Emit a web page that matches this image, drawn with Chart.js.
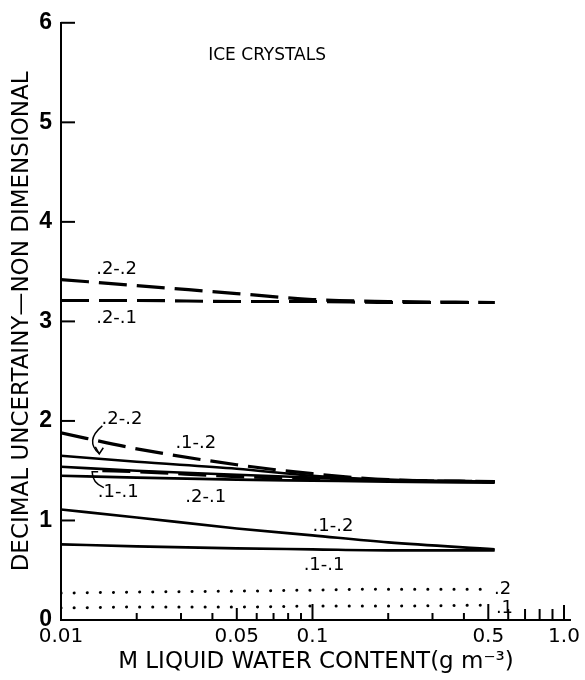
<!DOCTYPE html>
<html>
<head>
<meta charset="utf-8">
<script src="https://cdn.jsdelivr.net/npm/chart.js@4.4.1/dist/chart.umd.min.js"></script>
<style>
  html, body { margin: 0; padding: 0; background: #fff; }
</style>
</head>
<body>
<canvas id="chart" width="585" height="680"></canvas>
<script>
const lwc = [0.01, 0.02, 0.05, 0.1, 0.2, 0.53];
const lwcLate = [0.0146, 0.02, 0.05, 0.1, 0.2, 0.53];
const lwcDot = [0.01, 0.02, 0.05, 0.1, 0.2, 0.52];

// upper pair (dashed)
const upper22 = [3.42, 3.36, 3.28, 3.22, 3.20, 3.19];
const upper21 = [3.21, 3.21, 3.20, 3.20, 3.19, 3.19];

// middle bundle
const mid12Dash = [1.88, 1.72, 1.56, 1.47, 1.41, 1.39];
const mid22Solid = [1.65, 1.59, 1.52, 1.45, 1.41, 1.39];
const midSolid = [1.54, 1.50, 1.46, 1.43, 1.40, 1.39];
const mid21Dash = [1.50, 1.49, 1.44, 1.42, 1.40, 1.39];
const mid11Solid = [1.45, 1.43, 1.41, 1.40, 1.39, 1.38];

// lower pair (solid)
const low12 = [1.11, 1.03, 0.92, 0.85, 0.78, 0.71];
const low11 = [0.76, 0.74, 0.72, 0.71, 0.70, 0.70];

// dotted pair
const dot2 = [0.27, 0.28, 0.29, 0.30, 0.31, 0.31];
const dot1 = [0.12, 0.13, 0.13, 0.14, 0.14, 0.15];

const xTickValues = [0.01, 0.05, 0.1, 0.5, 1.0];
const xTickLabels = ['0.01', '0.05', '0.1', '0.5', '1.0'];
const xMinorTicks = [0.02, 0.03, 0.04, 0.06, 0.07, 0.08, 0.09, 0.2, 0.3, 0.4];
const xMidTicks = [0.6, 0.7, 0.8, 0.9];

// curve labels: text, anchor in data units
const curveLabels = [
    { text: '.2-.2', x: 0.0138, y: 3.52 },
    { text: '.2-.1', x: 0.0138, y: 3.03 },
    { text: '.2-.2', x: 0.0145, y: 2.02 },
    { text: '.1-.2', x: 0.0285, y: 1.77 },
    { text: '.1-.1', x: 0.0140, y: 1.28 },
    { text: '.2-.1', x: 0.0312, y: 1.23 },
    { text: '.1-.2', x: 0.100, y: 0.94 },
    { text: '.1-.1', x: 0.0922, y: 0.55 },
    { text: '.2', x: 0.527, y: 0.31 },
    { text: '.1', x: 0.536, y: 0.12 }
];

const FONT = "'Liberation Sans', Arial, sans-serif";
const WIDE = "'DejaVu Sans', sans-serif";

function pts(xs, ys) {
    return xs.map((x, i) => ({ x: x, y: ys[i] }));
}

function line(xs, ys, style) {
    const base = {
        data: pts(xs, ys),
        borderColor: '#000',
        borderWidth: 2.6,
        pointRadius: 0,
        fill: false,
        cubicInterpolationMode: 'monotone'
    };
    if (style === 'dash') {
        base.borderWidth = 3.2;
        base.borderDash = [28, 10];
    } else if (style === 'dot') {
        base.borderWidth = 3;
        base.borderDash = [0.1, 13];
        base.borderCapStyle = 'round';
    }
    return base;
}

// ticks pointing into the plot, labels and little arrows
const inkPlugin = {
    id: 'ink',
    afterDraw(chart) {
        const { ctx } = chart;
        const x = chart.scales.x;
        const y = chart.scales.y;
        const y0 = y.getPixelForValue(0);
        const xl = x.getPixelForValue(0.01);
        ctx.save();
        ctx.strokeStyle = '#000';
        ctx.lineWidth = 2;
        ctx.lineCap = 'butt';

        const xTick = (v, len) => {
            const px = x.getPixelForValue(v);
            ctx.beginPath();
            ctx.moveTo(px, y0);
            ctx.lineTo(px, y0 - len);
            ctx.stroke();
        };
        xMinorTicks.forEach(v => xTick(v, 7));
        xMidTicks.forEach(v => xTick(v, 11));
        xTick(0.05, 12);
        xTick(0.1, 16);
        xTick(0.5, 16);
        xTick(1.0, 15);

        [1, 2, 3, 4, 5, 6].forEach(v => {
            const py = y.getPixelForValue(v);
            ctx.beginPath();
            ctx.moveTo(xl, py);
            ctx.lineTo(xl + 14, py);
            ctx.stroke();
        });

        // title inside the plot
        ctx.fillStyle = '#000';
        ctx.font = '17px ' + WIDE;
        ctx.textAlign = 'center';
        ctx.textBaseline = 'middle';
        ctx.fillText('ICE CRYSTALS', x.getPixelForValue(0.066), y.getPixelForValue(5.67));

        ctx.font = '18px ' + WIDE;
        ctx.textAlign = 'left';
        curveLabels.forEach(l => {
            ctx.fillText(l.text, x.getPixelForValue(l.x), y.getPixelForValue(l.y));
        });

        // curved arrow from lower .2-.2 label to its curve
        ctx.lineWidth = 1.5;
        const a0x = x.getPixelForValue(0.0146), a0y = y.getPixelForValue(1.95);
        const a1x = x.getPixelForValue(0.0142), a1y = y.getPixelForValue(1.67);
        const acx = x.getPixelForValue(0.0124), acy = y.getPixelForValue(1.80);
        ctx.beginPath();
        ctx.moveTo(a0x, a0y);
        ctx.quadraticCurveTo(acx, acy, a1x, a1y);
        ctx.stroke();
        ctx.beginPath();
        ctx.moveTo(a1x - 4, a1y - 7);
        ctx.lineTo(a1x, a1y);
        ctx.lineTo(a1x + 4, a1y - 6);
        ctx.stroke();

        // hook from .1-.1 label up to its curve
        const b0x = x.getPixelForValue(0.0148), b0y = y.getPixelForValue(1.33);
        const b1x = x.getPixelForValue(0.0133), b1y = y.getPixelForValue(1.49);
        const bcx = x.getPixelForValue(0.0133), bcy = y.getPixelForValue(1.38);
        ctx.beginPath();
        ctx.moveTo(b0x, b0y);
        ctx.quadraticCurveTo(bcx, bcy, b1x, b1y);
        ctx.lineTo(b1x + 6, b1y);
        ctx.stroke();
        ctx.restore();
    }
};

new Chart(document.getElementById('chart'), {
    type: 'line',
    data: {
        datasets: [
            line(lwc, upper22, 'dash'),
            line(lwc, upper21, 'dash'),
            line(lwc, mid12Dash, 'dash'),
            line(lwc, mid22Solid, 'solid'),
            line(lwc, midSolid, 'solid'),
            line(lwcLate, mid21Dash, 'dash'),
            line(lwc, mid11Solid, 'solid'),
            line(lwc, low12, 'solid'),
            line(lwc, low11, 'solid'),
            line(lwcDot, dot2, 'dot'),
            line(lwcDot, dot1, 'dot')
        ]
    },
    options: {
        responsive: false,
        animation: false,
        devicePixelRatio: 1,
        layout: { padding: { top: 20, right: 7, left: 0, bottom: 0 } },
        plugins: {
            legend: { display: false },
            tooltip: { enabled: false }
        },
        scales: {
            x: {
                type: 'logarithmic',
                min: 0.01,
                max: 1.065,
                grid: { display: false, drawTicks: false },
                border: { display: true, color: '#000', width: 2 },
                afterBuildTicks: s => { s.ticks = xTickValues.map(v => ({ value: v })); },
                afterFit: s => { s.height = 60; },
                ticks: {
                    autoSkip: false,
                    maxRotation: 0,
                    padding: 5,
                    color: '#000',
                    font: { family: WIDE, size: 20 },
                    callback: (v, i) => xTickLabels[i]
                },
                title: {
                    display: true,
                    text: 'M LIQUID WATER CONTENT(g m⁻³)',
                    color: '#000',
                    font: { family: WIDE, size: 23 },
                    padding: { top: 0, bottom: 4 }
                }
            },
            y: {
                type: 'linear',
                min: 0,
                max: 6,
                grid: { display: false, drawTicks: false },
                border: { display: true, color: '#000', width: 2 },
                afterFit: s => { s.width = 61; },
                ticks: {
                    stepSize: 1,
                    padding: 9,
                    color: '#000',
                    font: { family: FONT, size: 23, weight: 'bold' }
                },
                title: {
                    display: true,
                    text: 'DECIMAL UNCERTAINY—NON DIMENSIONAL',
                    color: '#000',
                    font: { family: WIDE, size: 23 },
                    padding: { top: 8, bottom: 0 }
                }
            }
        }
    },
    plugins: [inkPlugin]
});
</script>
</body>
</html>
